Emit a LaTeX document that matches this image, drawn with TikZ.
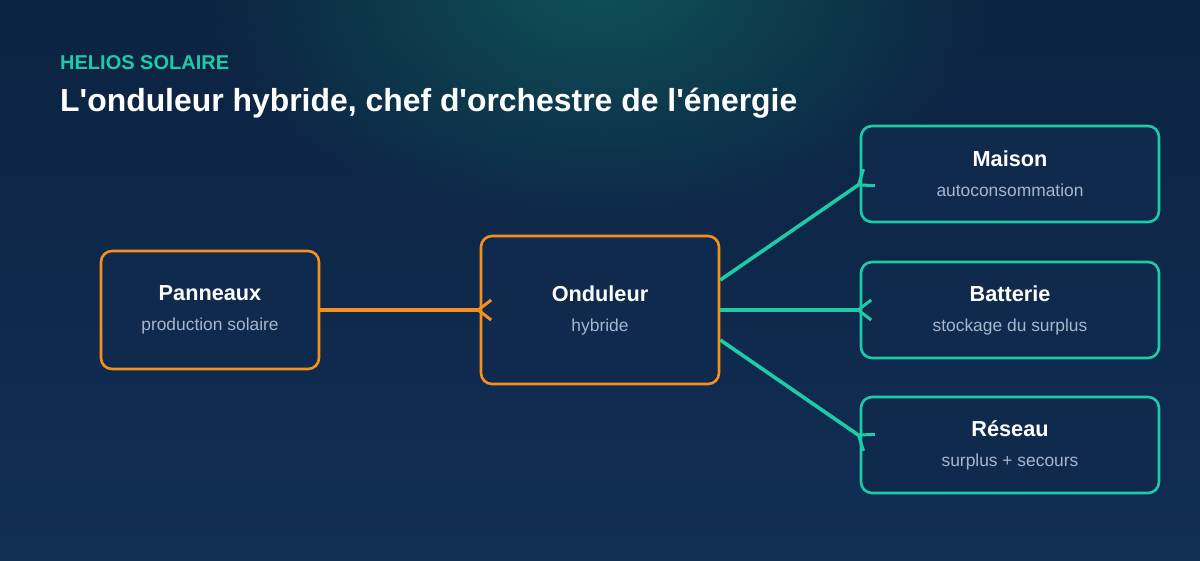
\documentclass[tikz,border=0pt]{standalone}
\usepackage{fontspec}
\setmainfont{Liberation Sans}
\usetikzlibrary{arrows.meta,fadings}
\definecolor{bgtop}{HTML}{0C2341}
\definecolor{bgbot}{HTML}{112E55}
\definecolor{glow}{HTML}{0F5258}
\definecolor{solar}{HTML}{F5901E}
\definecolor{mint}{HTML}{1DCCA6}
\definecolor{boxfill}{HTML}{0F2A4C}
\definecolor{subgrey}{HTML}{A7B6CC}
\tikzfading[name=glowfade, inner color=transparent!0, outer color=transparent!100]
\newcommand{\boxtext}[2]{{\bfseries\fontsize{21.7}{30}\selectfont #1}\\%
  {\color{subgrey}#2}}
\begin{document}
\begin{tikzpicture}[x=1pt, y=1pt,
    card/.style={draw, line width=2.6pt, rounded corners=11pt, fill=boxfill,
      text=white, align=center, font=\fontsize{17.4}{30}\selectfont,
      minimum width=298pt, minimum height=96pt},
    feed/.style={line width=3.6pt, -{Straight Barb[reversed, length=13pt, width=20pt, line width=3pt]},
      shorten >=-13pt}]
  \useasboundingbox (0,0) rectangle (1200,560);
  % fond
  \shade[top color=bgtop, bottom color=bgbot] (0,0) rectangle (1200,560);
  \fill[glow, path fading=glowfade] (600,580) ellipse (400 and 250);
  % titres
  \node[anchor=base west, inner sep=0pt, text=mint, font=\bfseries\fontsize{20}{22}\selectfont]
    (marque) at (60,490) {HELIOS SOLAIRE};
  \node[anchor=base west, inner sep=0pt, text=white, font=\bfseries\fontsize{31.9}{34}\selectfont]
    (titre) at (60,448) {L\textquotesingle onduleur hybride, chef d\textquotesingle orchestre de l\textquotesingle énergie};
  % sources et onduleur
  \node[card, draw=solar, minimum width=218pt, minimum height=118pt] (pan) at (210,250)
    {\boxtext{Panneaux}{production solaire}};
  \node[card, draw=solar, minimum width=238pt, minimum height=148pt] (ond) at (600,250)
    {\boxtext{Onduleur}{hybride}};
  % sorties
  \node[card, draw=mint] (mai) at (1010,386) {\boxtext{Maison}{autoconsommation}};
  \node[card, draw=mint] (bat) at (1010,250) {\boxtext{Batterie}{stockage du surplus}};
  \node[card, draw=mint] (res) at (1010,115) {\boxtext{Réseau}{surplus + secours}};
  % flux
  \draw[feed, solar] (pan.east) -- (ond.west);
  \foreach \dst/\dy/\ty in {mai/30/-10, bat/0/0, res/-30/9}
    \draw[feed, mint] ([yshift=\dy]ond.east) -- ([yshift=\ty]\dst.west);
\end{tikzpicture}
\end{document}
